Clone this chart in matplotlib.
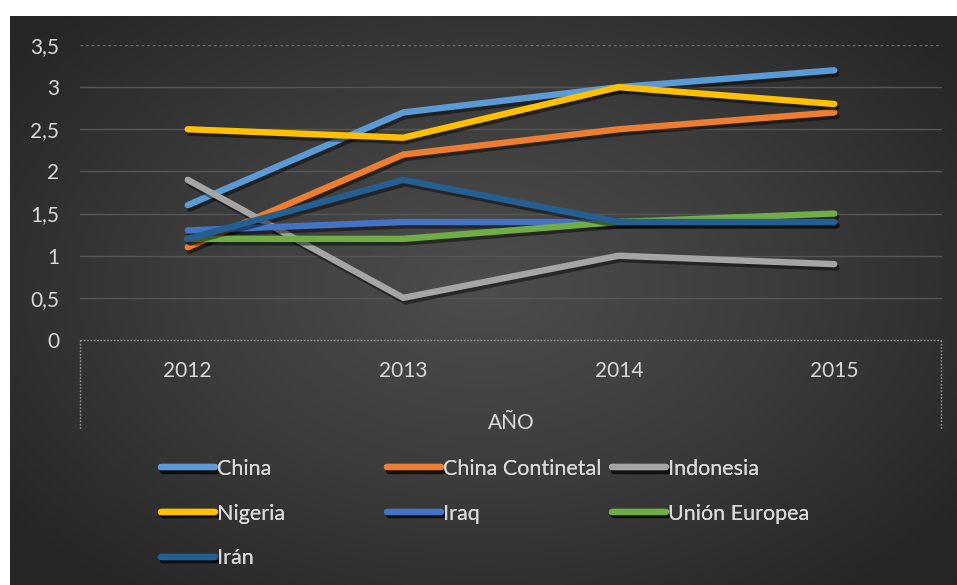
import numpy as np
import matplotlib
matplotlib.use("Agg")
import matplotlib.pyplot as plt
import matplotlib.patheffects as pe
from matplotlib.colors import LinearSegmentedColormap

plt.rcParams['font.family'] = ['Lato', 'DejaVu Sans']

years = ["2012", "2013", "2014", "2015"]
china = [1.6, 2.7, 3.0, 3.2]
china_continetal = [1.1, 2.2, 2.5, 2.7]
indonesia = [1.9, 0.5, 1.0, 0.9]
nigeria = [2.5, 2.4, 3.0, 2.8]
iraq = [1.3, 1.4, 1.4, 1.4]
union_europea = [1.2, 1.2, 1.4, 1.5]
iran = [1.2, 1.9, 1.4, 1.4]

series = [
    ("China", china, "#5B9BD5"),
    ("China Continetal", china_continetal, "#ED7D31"),
    ("Indonesia", indonesia, "#A5A5A5"),
    ("Nigeria", nigeria, "#FFC000"),
    ("Iraq", iraq, "#4472C4"),
    ("Unión Europea", union_europea, "#70AD47"),
    ("Irán", iran, "#255E91"),
]
yticks = [0, 0.5, 1, 1.5, 2, 2.5, 3, 3.5]
ytick_labels = ["0", "0,5", "1", "1,5", "2", "2,5", "3", "3,5"]

W, H = 957, 585
FS = 15
fig = plt.figure(figsize=(W / 100, H / 100), dpi=100, facecolor="white")

# radial dark background of the chart area
bg = fig.add_axes([10 / W, 0, 947 / W, 569 / H], zorder=-5)
gx, gy = np.meshgrid(np.linspace(-1, 1, 400), np.linspace(-1, 1, 250))
r = np.sqrt((gx / 1.05) ** 2 + ((gy + 0.05) / 1.15) ** 2)
cmap = LinearSegmentedColormap.from_list("bg", ["#4d4d4d", "#3c3c3c", "#262626"])
bg.imshow(np.clip(r, 0, 1.2), cmap=cmap, aspect="auto", extent=[0, 1, 0, 1],
          vmin=0, vmax=1.2, interpolation="bilinear")
bg.set_axis_off()

ax = fig.add_axes([80 / W, 245 / H, 862 / W, 295 / H])
ax.set_facecolor("none")
x = np.arange(len(years))
ax.set_xlim(-0.5, len(years) - 0.5)
ax.set_ylim(0, 3.5)

for v in yticks[1:-1]:
    ax.axhline(v, color="#565656", lw=1.0, zorder=1)
ax.axhline(3.5, color="#6a6a6a", lw=1.0, ls=(0, (2, 2)), zorder=1)

shadow = [pe.SimpleLineShadow(offset=(1.5, -2.5), shadow_color="black", alpha=0.45),
          pe.Normal()]
handles = {}
for name, vals, col in series:
    ln, = ax.plot(x, vals, color=col, lw=4.6, solid_capstyle="round",
                  solid_joinstyle="round", label=name, path_effects=shadow, zorder=3)
    handles[name] = ln

for s in ax.spines.values():
    s.set_visible(False)
ax.set_yticks(yticks)
ax.set_yticklabels(ytick_labels)
ax.set_xticks(x)
ax.set_xticklabels(years)
ax.tick_params(axis="both", length=0, colors="#d9d9d9", labelsize=FS)
ax.tick_params(axis="y", pad=15)
ax.tick_params(axis="x", pad=15)
ax.set_xlabel("AÑO", color="#d9d9d9", fontsize=FS, labelpad=23)

# dotted frame around the category axis area
y0, y1 = 340 / H, 155 / H
fx0, fx1 = 80 / W, 941 / W
frame_kw = dict(color="#9a9a9a", lw=1.0, ls=(0, (1.2, 1.2)), transform=fig.transFigure)
fig.add_artist(plt.Line2D([fx0, fx1], [1 - y0, 1 - y0], **frame_kw))
fig.add_artist(plt.Line2D([fx0, fx0], [1 - y0, y1], **frame_kw))
fig.add_artist(plt.Line2D([fx1, fx1], [1 - y0, y1], **frame_kw))

# legend in three columns
columns = [["China", "Nigeria", "Irán"],
           ["China Continetal", "Iraq"],
           ["Indonesia", "Unión Europea"]]
col_x = [150, 376, 601]
for cx, names in zip(col_x, columns):
    leg = fig.legend([handles[n] for n in names], names, loc="upper left",
                     bbox_to_anchor=(cx / W, 1 - 448 / H), frameon=False,
                     fontsize=15.5, labelcolor="#d9d9d9", handlelength=2.5,
                     handletextpad=0.1, labelspacing=1.15, borderpad=0)
    fig.add_artist(leg)

fig.savefig("out.png", dpi=100, facecolor="white")
